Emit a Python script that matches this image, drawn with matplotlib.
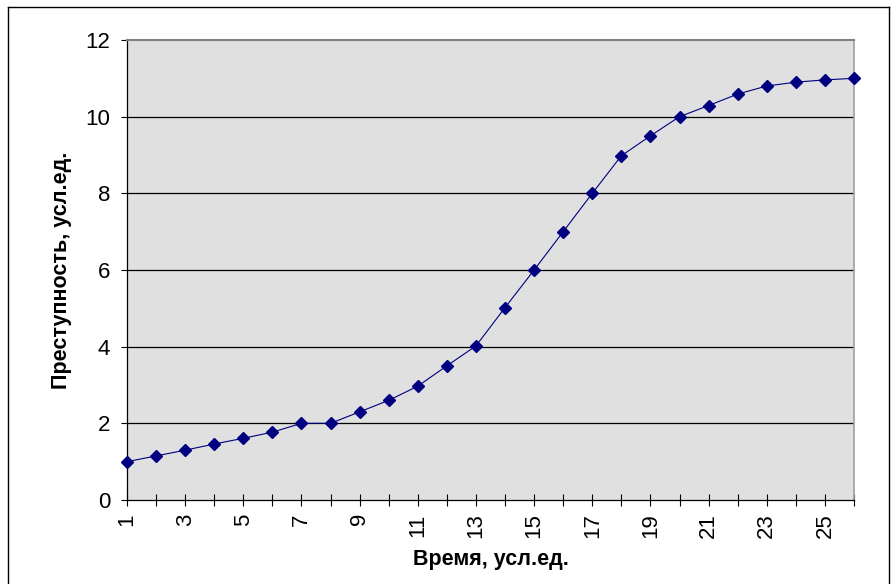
import matplotlib
matplotlib.use("Agg")
import matplotlib.pyplot as plt
from matplotlib.lines import Line2D

plt.rcParams['font.family'] = ['Liberation Sans', 'DejaVu Sans']

time = list(range(1, 27))
crime = [1.0, 1.15, 1.3, 1.46, 1.61, 1.77, 2.0, 2.0, 2.3, 2.6, 2.97, 3.5,
         4.02, 5.02, 6.0, 7.0, 8.0, 8.98, 9.5, 10.0, 10.29, 10.59, 10.8, 10.9,
         10.96, 11.0]
yticks = [0, 2, 4, 6, 8, 10, 12]
xticklabels_shown = list(range(1, 27, 2))

W, H = 894, 584
fig = plt.figure(figsize=(W / 100, H / 100), dpi=100)
ax = fig.add_axes([127 / W, (H - 500) / H, (854 - 127) / W, (500 - 40) / H])
ax.set_facecolor('#E0E0E0')

ax.plot(time, crime, color='#000080', linewidth=0.8, marker='D',
        markersize=6, markerfacecolor='#000080', markeredgecolor='#000080',
        zorder=3, clip_on=False)

ax.set_xlim(1, 26)
ax.set_ylim(0, 12)
ax.set_yticks(yticks)
ax.set_yticklabels([str(v) for v in yticks], fontsize=16)
ax.set_xticks(time)
ax.set_xticklabels([str(t) if t in xticklabels_shown else '' for t in time],
                   rotation=90, fontsize=16, va='top', ha='center')

ax.tick_params(axis='y', direction='out', length=4, width=0.8, pad=8, color='black')
ax.tick_params(axis='x', direction='inout', length=9, width=0.8, pad=5, color='black')

for gy in yticks[1:-1]:
    ax.axhline(gy, color='black', linewidth=0.9, zorder=1)

ax.spines['left'].set_color('black')
ax.spines['bottom'].set_color('black')
ax.spines['left'].set_linewidth(0.9)
ax.spines['bottom'].set_linewidth(0.9)
ax.spines['top'].set_color('#808080')
ax.spines['right'].set_color('#A0A0A0')
ax.spines['top'].set_linewidth(1.5)
ax.spines['right'].set_linewidth(1.2)

ax.set_ylabel('Преступность, усл.ед.', fontsize=15.5, fontweight='bold', labelpad=10)
ax.set_xlabel('Время, усл.ед.', fontsize=15.5, fontweight='bold', labelpad=8)

# outer chart border
for (x0, y0, x1, y1) in [(8, 7, 889, 7), (8, 7, 8, H + 5), (889, 7, 889, H + 5)]:
    fig.add_artist(Line2D([x0 / W, x1 / W], [1 - y0 / H, 1 - y1 / H],
                          color='black', linewidth=1.0, transform=fig.transFigure))

fig.savefig('out.png', dpi=100)
